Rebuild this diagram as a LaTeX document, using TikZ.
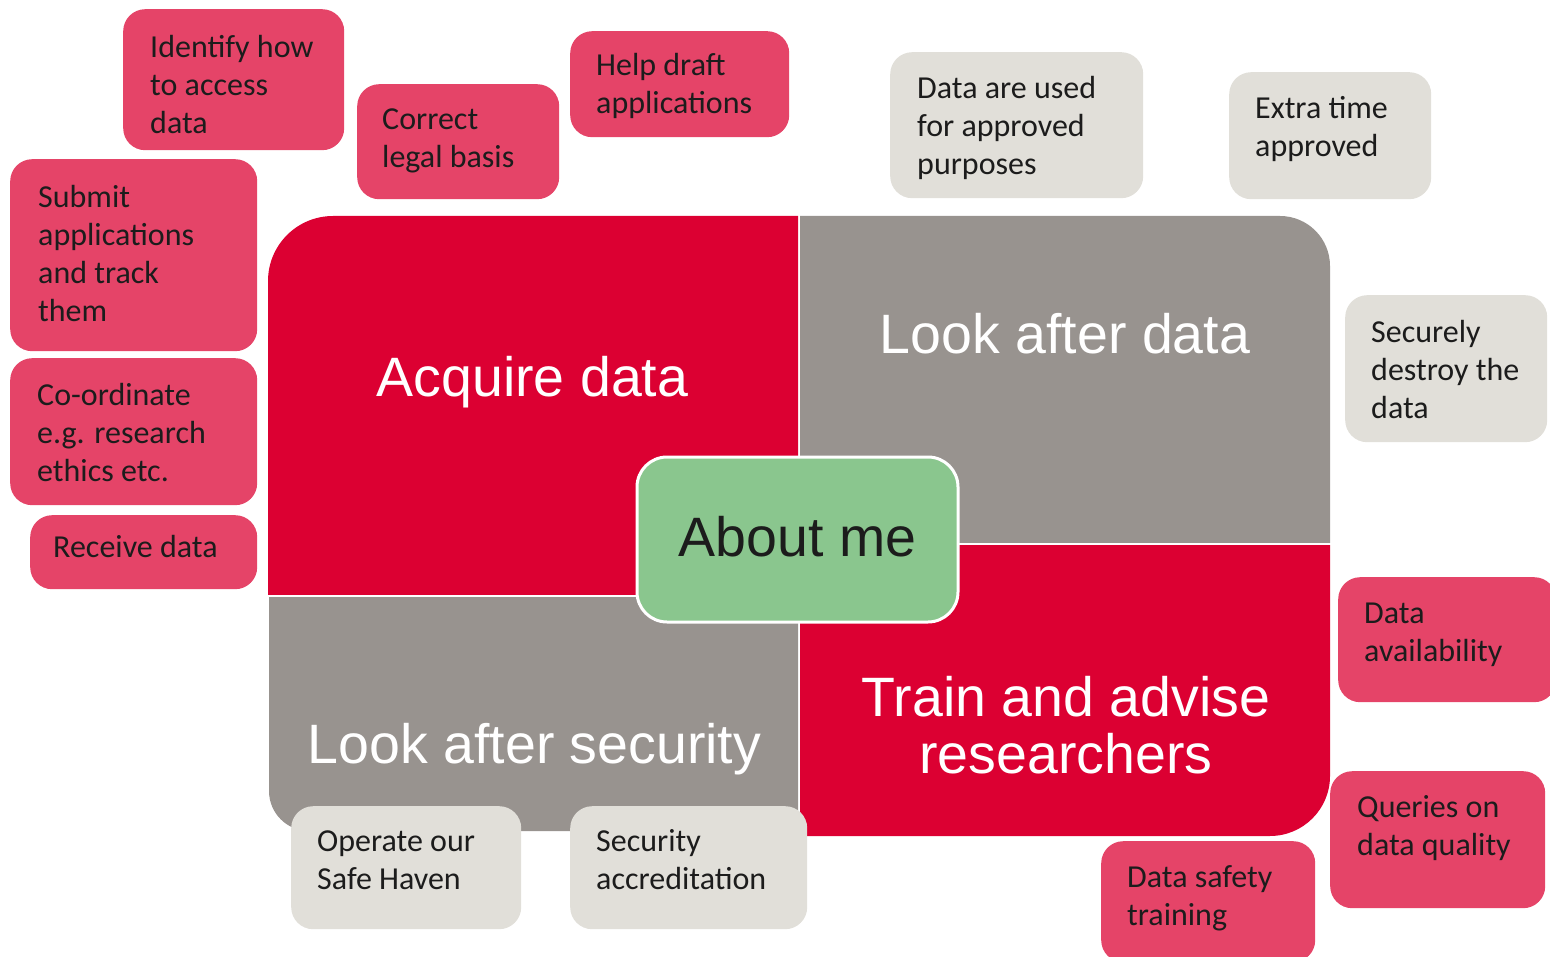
\documentclass[tikz,border=0pt]{standalone}
\usepackage{fontspec}
\setmainfont{Carlito}
\newfontfamily\headsans{Liberation Sans}
\newcommand\cardfont{\fontsize{32}{38}\selectfont}
\newcommand\headfont{\headsans\fontsize{55.5}{57}\selectfont}

\definecolor{bigred}{HTML}{DC0032}
\definecolor{biggray}{HTML}{98938F}
\definecolor{cardpink}{HTML}{E54468}
\definecolor{cardgray}{HTML}{E1DFD9}
\definecolor{aboutgreen}{HTML}{8AC68E}
\definecolor{ink}{HTML}{1C1C1C}

\tikzset{
  card/.style={rectangle, rounded corners=22pt, inner sep=0pt, anchor=north west},
  pinkcard/.style={card, fill=cardpink},
  graycard/.style={card, fill=cardgray},
  cardtext/.style={anchor=north west, inner sep=0pt, align=left, font=\cardfont, text=ink},
  headtext/.style={anchor=base, inner sep=0pt, align=center, font=\headfont, text=white},
}

\begin{document}
\begin{tikzpicture}[x=1pt, y=-1pt]
\useasboundingbox (0,0) rectangle (1550,957);

% four quadrants, each rounded on its outer corner only
\begin{scope}
  \clip (268,216) rectangle (798,594);
  \fill[bigred, rounded corners=65pt] (268,216) rectangle (950,750);
\end{scope}
\begin{scope}
  \clip (800,216) rectangle (1330,542);
  \fill[biggray, rounded corners=50pt] (650,216) rectangle (1330,700);
\end{scope}
\begin{scope}
  \clip (800,545) rectangle (1330,836);
  \fill[bigred, rounded corners=60pt] (650,400) rectangle (1330,836);
\end{scope}
\begin{scope}
  \clip (269,597) rectangle (798,831);
  \fill[biggray, rounded corners=40pt] (269,450) rectangle (950,831);
\end{scope}

\node[headtext] (acq) at (532.5,397) {Acquire data};
\node[headtext] (lad) at (1065,354) {Look after data};
% a multi-line node sits on the baseline of its last line
\node[headtext] (tar) at (1066,773) {Train and advise\\researchers};
\node[headtext] (las) at (534.5,763) {Look after security};

% centre box
\node[rectangle, rounded corners=30pt, fill=aboutgreen, draw=white, line width=3pt,
      minimum width=321pt, minimum height=165pt, inner sep=0pt] (about) at (797.5,539.5) {};
\node[headtext, text=ink] (aboutlbl) at (797.5,556) {About me};

% cards around the quadrants
\node[pinkcard, minimum width=221pt, minimum height=141pt] (identify) at (123,9) {};
\node[cardtext] (identifylbl) at (150,30.4) {\strut Identify how\\to access\\data};

\node[pinkcard, minimum width=202pt, minimum height=115pt] (legal) at (357,84) {};
\node[cardtext] (legallbl) at (382,102.4) {\strut Correct\\legal basis};

\node[pinkcard, minimum width=219pt, minimum height=106pt] (draft) at (570,31) {};
\node[cardtext] (draftlbl) at (596,48.4) {\strut Help draft\\applications};

\node[pinkcard, minimum width=247pt, minimum height=192pt] (submit) at (10,159) {};
\node[cardtext] (submitlbl) at (38,180.4) {\strut Submit\\applications\\and track\\them};

\node[pinkcard, minimum width=247pt, minimum height=147pt] (coord) at (10,358) {};
\node[cardtext] (coordlbl) at (37,378.4) {\strut Co-ordinate\\e.g. research\\ethics etc.};

\node[pinkcard, minimum width=227pt, minimum height=74pt] (receive) at (30,515) {};
\node[cardtext] (receivelbl) at (53,530.4) {\strut Receive data};

\node[graycard, minimum width=253pt, minimum height=146pt] (purpose) at (890,52) {};
\node[cardtext] (purposelbl) at (917,71.4) {\strut Data are used\\for approved\\purposes};

\node[graycard, minimum width=202pt, minimum height=127pt] (extra) at (1229,72) {};
\node[cardtext] (extralbl) at (1255,91.4) {\strut Extra time\\approved};

\node[graycard, minimum width=202pt, minimum height=147pt] (destroy) at (1345,295) {};
\node[cardtext] (destroylbl) at (1371,315.4) {\strut Securely\\destroy the\\data};

\node[pinkcard, minimum width=218pt, minimum height=125pt] (avail) at (1338,577) {};
\node[cardtext] (availlbl) at (1364,596.4) {\strut Data\\availability};

\node[pinkcard, minimum width=215pt, minimum height=137pt] (quality) at (1330,771) {};
\node[cardtext] (qualitylbl) at (1357,790.4) {\strut Queries on\\data quality};

\node[pinkcard, minimum width=214pt, minimum height=121pt] (safety) at (1101,841) {};
\node[cardtext] (safetylbl) at (1127,860.4) {\strut Data safety\\training};

\node[graycard, minimum width=230pt, minimum height=123pt] (haven) at (291,806) {};
\node[cardtext] (havenlbl) at (317,824.4) {\strut Operate our\\Safe Haven};

\node[graycard, minimum width=237pt, minimum height=123pt] (accred) at (570,806) {};
\node[cardtext] (accredlbl) at (596,824.4) {\strut Security\\accreditation};
\end{tikzpicture}
\end{document}
